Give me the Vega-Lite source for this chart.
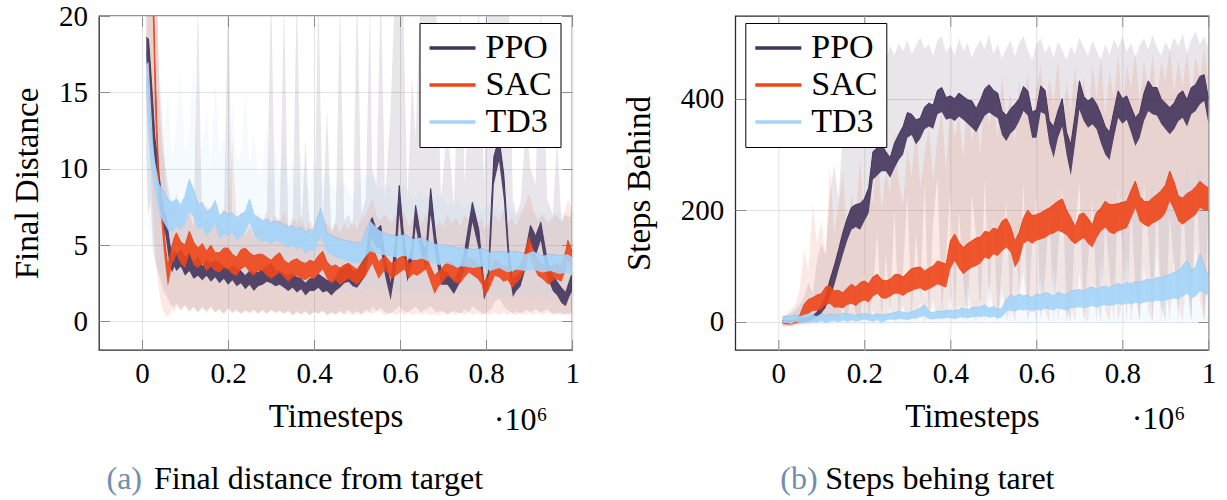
{
"$schema": "https://vega.github.io/schema/vega-lite/v6.json",
"background": "white",
"padding": {"left": 10, "top": 1, "right": 5, "bottom": 5},
"bounds": "flush",
"spacing": 162.3,
"config": {
  "font": "Liberation Serif, Times New Roman, serif",
  "view": {"stroke": "#2b2b2b", "strokeWidth": 1.3},
  "axis": {"labelFont": "Liberation Serif, Times New Roman, serif", "labelFontSize": 29, "labelColor": "#000", "titleFont": "Liberation Serif, Times New Roman, serif", "titleFontSize": 33, "titleFontWeight": "normal", "titleColor": "#000", "gridColor": "#e3e3e3", "gridWidth": 1, "tickColor": "#8c8c8c", "tickWidth": 1, "tickSize": -10.5, "domain": false, "labelFlush": false, "labelOverlap": false},
  "legend": {"title": null, "symbolType": "stroke", "symbolSize": 2116, "symbolStrokeWidth": 3.5, "labelFont": "Liberation Serif, Times New Roman, serif", "labelFontSize": 34, "labelColor": "#000", "labelOffset": 8, "padding": 8, "rowPadding": 3, "clipHeight": 34, "strokeColor": "#000", "fillColor": "#fff", "symbolOpacity": 1}
},
"resolve": {"scale": {"x": "independent", "y": "independent", "color": "independent"}, "legend": {"color": "independent"}, "axis": {"x": "independent", "y": "independent"}},
"datasets": {
"A": [
{"s":"PPO","t":0.01,"lo":16.8,"hi":18.6,"mn":11,"mx":22},
{"s":"PPO","t":0.015,"lo":17.0,"hi":18.5,"mn":7,"mx":24},
{"s":"PPO","t":0.02,"lo":14.5,"hi":16.6,"mn":8,"mx":21},
{"s":"PPO","t":0.025,"lo":12.0,"hi":14.4,"mn":5,"mx":23},
{"s":"PPO","t":0.03,"lo":10.4,"hi":12.0,"mn":4,"mx":17},
{"s":"PPO","t":0.035,"lo":9.4,"hi":11.0,"mn":3.5,"mx":22},
{"s":"PPO","t":0.04,"lo":8.0,"hi":9.5,"mn":3,"mx":15},
{"s":"PPO","t":0.045,"lo":7.0,"hi":8.4,"mn":2.5,"mx":12},
{"s":"PPO","t":0.05,"lo":6.2,"hi":7.3,"mn":2,"mx":11},
{"s":"PPO","t":0.055,"lo":5.6,"hi":7.0,"mn":1.8,"mx":10},
{"s":"PPO","t":0.06,"lo":4.5,"hi":6.0,"mn":1.5,"mx":9},
{"s":"PPO","t":0.065,"lo":3.6,"hi":5.0,"mn":1.2,"mx":8},
{"s":"PPO","t":0.07,"lo":3.2,"hi":4.3,"mn":1,"mx":7.5},
{"s":"PPO","t":0.075,"lo":3.6,"hi":4.6,"mn":0.9,"mx":8},
{"s":"PPO","t":0.08,"lo":3.3,"hi":4.4,"mn":1.2,"mx":7},
{"s":"PPO","t":0.09,"lo":3.6,"hi":4.7,"mn":0.8,"mx":7.5},
{"s":"PPO","t":0.1,"lo":3.0,"hi":4.2,"mn":1.1,"mx":6.5},
{"s":"PPO","t":0.11,"lo":3.3,"hi":4.5,"mn":0.7,"mx":7.2},
{"s":"PPO","t":0.12,"lo":2.8,"hi":3.8,"mn":1.0,"mx":6.2},
{"s":"PPO","t":0.13,"lo":3.0,"hi":4.2,"mn":0.6,"mx":21},
{"s":"PPO","t":0.14,"lo":2.7,"hi":3.6,"mn":0.9,"mx":6},
{"s":"PPO","t":0.15,"lo":3.0,"hi":4.0,"mn":0.7,"mx":6.8},
{"s":"PPO","t":0.16,"lo":2.6,"hi":3.8,"mn":1.0,"mx":6.1},
{"s":"PPO","t":0.17,"lo":2.9,"hi":4.0,"mn":0.6,"mx":6.6},
{"s":"PPO","t":0.18,"lo":2.5,"hi":3.8,"mn":0.8,"mx":7},
{"s":"PPO","t":0.19,"lo":2.8,"hi":3.6,"mn":0.5,"mx":6},
{"s":"PPO","t":0.2,"lo":2.4,"hi":3.4,"mn":0.9,"mx":22},
{"s":"PPO","t":0.21,"lo":2.7,"hi":3.6,"mn":0.6,"mx":6.3},
{"s":"PPO","t":0.22,"lo":2.3,"hi":3.5,"mn":0.8,"mx":5.8},
{"s":"PPO","t":0.23,"lo":2.5,"hi":3.3,"mn":0.5,"mx":6.5},
{"s":"PPO","t":0.24,"lo":2.1,"hi":3.0,"mn":0.7,"mx":5.6},
{"s":"PPO","t":0.25,"lo":2.4,"hi":3.3,"mn":0.6,"mx":6.2},
{"s":"PPO","t":0.26,"lo":2.0,"hi":3.2,"mn":0.8,"mx":5.5},
{"s":"PPO","t":0.27,"lo":2.3,"hi":3.2,"mn":0.5,"mx":6.4},
{"s":"PPO","t":0.28,"lo":2.4,"hi":3.4,"mn":0.7,"mx":5.9},
{"s":"PPO","t":0.29,"lo":2.6,"hi":3.6,"mn":0.5,"mx":6.6},
{"s":"PPO","t":0.3,"lo":2.5,"hi":3.8,"mn":0.8,"mx":22},
{"s":"PPO","t":0.31,"lo":2.3,"hi":3.3,"mn":0.6,"mx":6},
{"s":"PPO","t":0.32,"lo":2.4,"hi":3.3,"mn":0.7,"mx":6.8},
{"s":"PPO","t":0.33,"lo":2.2,"hi":3.1,"mn":0.5,"mx":21},
{"s":"PPO","t":0.34,"lo":2.0,"hi":3.0,"mn":0.7,"mx":5.8},
{"s":"PPO","t":0.35,"lo":2.2,"hi":3.1,"mn":0.4,"mx":6.2},
{"s":"PPO","t":0.36,"lo":1.9,"hi":2.9,"mn":0.6,"mx":22},
{"s":"PPO","t":0.37,"lo":2.1,"hi":2.8,"mn":0.5,"mx":5.6},
{"s":"PPO","t":0.38,"lo":1.7,"hi":2.5,"mn":0.7,"mx":12},
{"s":"PPO","t":0.39,"lo":2.0,"hi":2.8,"mn":0.4,"mx":6},
{"s":"PPO","t":0.4,"lo":2.0,"hi":2.8,"mn":0.6,"mx":5.5},
{"s":"PPO","t":0.41,"lo":2.2,"hi":3.1,"mn":0.5,"mx":22},
{"s":"PPO","t":0.42,"lo":1.9,"hi":2.9,"mn":0.7,"mx":6.2},
{"s":"PPO","t":0.43,"lo":2.0,"hi":2.7,"mn":0.4,"mx":14},
{"s":"PPO","t":0.44,"lo":1.7,"hi":2.6,"mn":0.6,"mx":5.8},
{"s":"PPO","t":0.45,"lo":2.0,"hi":2.9,"mn":0.5,"mx":6.4},
{"s":"PPO","t":0.46,"lo":2.2,"hi":3.4,"mn":0.7,"mx":21},
{"s":"PPO","t":0.47,"lo":2.5,"hi":3.5,"mn":0.5,"mx":6.6},
{"s":"PPO","t":0.48,"lo":2.6,"hi":3.8,"mn":0.8,"mx":7},
{"s":"PPO","t":0.49,"lo":2.3,"hi":3.3,"mn":0.5,"mx":6.2},
{"s":"PPO","t":0.5,"lo":2.2,"hi":3.3,"mn":0.7,"mx":22},
{"s":"PPO","t":0.51,"lo":2.6,"hi":3.8,"mn":0.5,"mx":7},
{"s":"PPO","t":0.52,"lo":3.0,"hi":4.3,"mn":0.8,"mx":8},
{"s":"PPO","t":0.53,"lo":5.0,"hi":6.5,"mn":0.6,"mx":21},
{"s":"PPO","t":0.535,"lo":5.5,"hi":6.8,"mn":1.0,"mx":10},
{"s":"PPO","t":0.545,"lo":4.8,"hi":6.0,"mn":0.7,"mx":9},
{"s":"PPO","t":0.555,"lo":4.8,"hi":6.3,"mn":0.9,"mx":22},
{"s":"PPO","t":0.565,"lo":3.0,"hi":4.2,"mn":0.6,"mx":8},
{"s":"PPO","t":0.578,"lo":1.4,"hi":2.4,"mn":0.5,"mx":14},
{"s":"PPO","t":0.59,"lo":3.5,"hi":5.5,"mn":0.8,"mx":23},
{"s":"PPO","t":0.598,"lo":7.0,"hi":8.9,"mn":1.0,"mx":24},
{"s":"PPO","t":0.607,"lo":4.5,"hi":6.0,"mn":0.7,"mx":21},
{"s":"PPO","t":0.617,"lo":2.6,"hi":3.6,"mn":0.6,"mx":8},
{"s":"PPO","t":0.628,"lo":3.8,"hi":5.0,"mn":0.8,"mx":16},
{"s":"PPO","t":0.636,"lo":6.2,"hi":7.6,"mn":1.0,"mx":12},
{"s":"PPO","t":0.648,"lo":4.5,"hi":5.5,"mn":0.6,"mx":22},
{"s":"PPO","t":0.66,"lo":3.4,"hi":4.6,"mn":0.8,"mx":23},
{"s":"PPO","t":0.671,"lo":7.0,"hi":8.7,"mn":1.0,"mx":24},
{"s":"PPO","t":0.683,"lo":4.2,"hi":5.5,"mn":0.6,"mx":22},
{"s":"PPO","t":0.695,"lo":2.4,"hi":3.4,"mn":0.7,"mx":8},
{"s":"PPO","t":0.71,"lo":2.4,"hi":3.2,"mn":0.5,"mx":13},
{"s":"PPO","t":0.725,"lo":1.8,"hi":2.6,"mn":0.7,"mx":7.5},
{"s":"PPO","t":0.74,"lo":2.6,"hi":3.6,"mn":0.5,"mx":21},
{"s":"PPO","t":0.75,"lo":3.5,"hi":4.6,"mn":0.8,"mx":9},
{"s":"PPO","t":0.76,"lo":5.0,"hi":6.4,"mn":0.6,"mx":15},
{"s":"PPO","t":0.768,"lo":6.5,"hi":7.8,"mn":1.0,"mx":12},
{"s":"PPO","t":0.783,"lo":4.7,"hi":6.0,"mn":0.7,"mx":21},
{"s":"PPO","t":0.795,"lo":1.4,"hi":2.4,"mn":0.5,"mx":9},
{"s":"PPO","t":0.805,"lo":2.2,"hi":3.2,"mn":0.7,"mx":22},
{"s":"PPO","t":0.812,"lo":5.5,"hi":7.5,"mn":0.8,"mx":23},
{"s":"PPO","t":0.818,"lo":9.0,"hi":10.8,"mn":1.2,"mx":24},
{"s":"PPO","t":0.83,"lo":10.5,"hi":12.0,"mn":1.5,"mx":24},
{"s":"PPO","t":0.841,"lo":8.0,"hi":9.6,"mn":1.0,"mx":23},
{"s":"PPO","t":0.852,"lo":3.5,"hi":4.8,"mn":0.7,"mx":22},
{"s":"PPO","t":0.862,"lo":1.6,"hi":2.6,"mn":0.5,"mx":8},
{"s":"PPO","t":0.87,"lo":2.0,"hi":3.0,"mn":0.7,"mx":7},
{"s":"PPO","t":0.88,"lo":2.3,"hi":3.2,"mn":0.5,"mx":7.8},
{"s":"PPO","t":0.893,"lo":3.6,"hi":4.8,"mn":0.8,"mx":13},
{"s":"PPO","t":0.903,"lo":5.2,"hi":6.3,"mn":0.6,"mx":10},
{"s":"PPO","t":0.915,"lo":4.3,"hi":5.6,"mn":0.8,"mx":9},
{"s":"PPO","t":0.927,"lo":5.3,"hi":6.5,"mn":0.6,"mx":21},
{"s":"PPO","t":0.942,"lo":2.9,"hi":4.0,"mn":0.8,"mx":8},
{"s":"PPO","t":0.955,"lo":2.0,"hi":3.0,"mn":0.5,"mx":7},
{"s":"PPO","t":0.965,"lo":1.7,"hi":2.6,"mn":0.6,"mx":12},
{"s":"PPO","t":0.975,"lo":1.2,"hi":2.2,"mn":0.4,"mx":6.5},
{"s":"PPO","t":0.985,"lo":1.0,"hi":1.9,"mn":0.5,"mx":7},
{"s":"PPO","t":0.993,"lo":1.6,"hi":2.6,"mn":0.4,"mx":6.8},
{"s":"PPO","t":1.0,"lo":2.0,"hi":3.2,"mn":0.6,"mx":7.2},
{"s":"SAC","t":0.01,"lo":26,"hi":30,"mn":14,"mx":32},
{"s":"SAC","t":0.02,"lo":24,"hi":28,"mn":10,"mx":32},
{"s":"SAC","t":0.025,"lo":20,"hi":24,"mn":7,"mx":30},
{"s":"SAC","t":0.03,"lo":14,"hi":17,"mn":5,"mx":25},
{"s":"SAC","t":0.035,"lo":10.5,"hi":12.5,"mn":3,"mx":20},
{"s":"SAC","t":0.04,"lo":7.8,"hi":9.2,"mn":2,"mx":16},
{"s":"SAC","t":0.045,"lo":6.5,"hi":8.0,"mn":1,"mx":14},
{"s":"SAC","t":0.05,"lo":4.8,"hi":6.3,"mn":0.6,"mx":12},
{"s":"SAC","t":0.055,"lo":3.5,"hi":4.8,"mn":0.4,"mx":9},
{"s":"SAC","t":0.06,"lo":2.3,"hi":3.6,"mn":0.3,"mx":8},
{"s":"SAC","t":0.065,"lo":3.0,"hi":4.4,"mn":0.5,"mx":7.5},
{"s":"SAC","t":0.07,"lo":3.8,"hi":5.0,"mn":0.8,"mx":8},
{"s":"SAC","t":0.075,"lo":4.0,"hi":5.5,"mn":0.6,"mx":7.2},
{"s":"SAC","t":0.08,"lo":4.4,"hi":5.8,"mn":1.0,"mx":8.5},
{"s":"SAC","t":0.09,"lo":3.8,"hi":5.2,"mn":0.7,"mx":7},
{"s":"SAC","t":0.1,"lo":3.5,"hi":5.0,"mn":1.0,"mx":8},
{"s":"SAC","t":0.11,"lo":4.4,"hi":5.9,"mn":0.6,"mx":9},
{"s":"SAC","t":0.12,"lo":3.7,"hi":5.2,"mn":0.9,"mx":7.4},
{"s":"SAC","t":0.13,"lo":3.5,"hi":4.8,"mn":0.6,"mx":8},
{"s":"SAC","t":0.14,"lo":3.8,"hi":5.1,"mn":1.0,"mx":7},
{"s":"SAC","t":0.15,"lo":3.3,"hi":4.6,"mn":0.5,"mx":7.6},
{"s":"SAC","t":0.16,"lo":3.6,"hi":5.0,"mn":0.9,"mx":7},
{"s":"SAC","t":0.17,"lo":3.3,"hi":4.5,"mn":0.6,"mx":8},
{"s":"SAC","t":0.18,"lo":3.2,"hi":4.5,"mn":0.8,"mx":6.8},
{"s":"SAC","t":0.19,"lo":3.5,"hi":4.8,"mn":0.5,"mx":7.4},
{"s":"SAC","t":0.2,"lo":3.4,"hi":4.8,"mn":0.8,"mx":7},
{"s":"SAC","t":0.21,"lo":3.1,"hi":4.4,"mn":0.5,"mx":12},
{"s":"SAC","t":0.22,"lo":3.0,"hi":4.2,"mn":0.7,"mx":6.6},
{"s":"SAC","t":0.23,"lo":3.4,"hi":4.7,"mn":0.5,"mx":7.2},
{"s":"SAC","t":0.24,"lo":3.6,"hi":4.8,"mn":0.8,"mx":6.8},
{"s":"SAC","t":0.25,"lo":3.2,"hi":4.5,"mn":0.5,"mx":7.4},
{"s":"SAC","t":0.26,"lo":3.0,"hi":4.3,"mn":0.7,"mx":6.5},
{"s":"SAC","t":0.27,"lo":3.3,"hi":4.4,"mn":0.5,"mx":7},
{"s":"SAC","t":0.28,"lo":3.3,"hi":4.4,"mn":0.8,"mx":6.6},
{"s":"SAC","t":0.29,"lo":3.0,"hi":4.2,"mn":0.5,"mx":7.2},
{"s":"SAC","t":0.3,"lo":2.8,"hi":4.0,"mn":0.7,"mx":6.4},
{"s":"SAC","t":0.31,"lo":3.0,"hi":4.3,"mn":0.5,"mx":7},
{"s":"SAC","t":0.32,"lo":3.2,"hi":4.5,"mn":0.7,"mx":6.5},
{"s":"SAC","t":0.33,"lo":2.9,"hi":4.0,"mn":0.5,"mx":7.2},
{"s":"SAC","t":0.34,"lo":2.6,"hi":3.8,"mn":0.7,"mx":6.2},
{"s":"SAC","t":0.35,"lo":2.9,"hi":4.0,"mn":0.4,"mx":6.8},
{"s":"SAC","t":0.36,"lo":3.0,"hi":4.1,"mn":0.7,"mx":6.4},
{"s":"SAC","t":0.37,"lo":2.8,"hi":3.9,"mn":0.4,"mx":7},
{"s":"SAC","t":0.38,"lo":2.7,"hi":3.8,"mn":0.6,"mx":6},
{"s":"SAC","t":0.39,"lo":2.9,"hi":4.0,"mn":0.4,"mx":6.6},
{"s":"SAC","t":0.4,"lo":2.8,"hi":3.9,"mn":0.7,"mx":6.2},
{"s":"SAC","t":0.41,"lo":3.1,"hi":4.3,"mn":0.5,"mx":7},
{"s":"SAC","t":0.42,"lo":3.4,"hi":4.6,"mn":0.7,"mx":6.8},
{"s":"SAC","t":0.43,"lo":2.8,"hi":3.9,"mn":0.4,"mx":6.4},
{"s":"SAC","t":0.44,"lo":2.5,"hi":3.6,"mn":0.6,"mx":6},
{"s":"SAC","t":0.45,"lo":2.7,"hi":3.7,"mn":0.4,"mx":6.6},
{"s":"SAC","t":0.46,"lo":2.4,"hi":3.5,"mn":0.6,"mx":5.8},
{"s":"SAC","t":0.47,"lo":2.6,"hi":3.7,"mn":0.4,"mx":6.4},
{"s":"SAC","t":0.48,"lo":2.8,"hi":3.8,"mn":0.6,"mx":6},
{"s":"SAC","t":0.49,"lo":2.6,"hi":3.6,"mn":0.4,"mx":6.6},
{"s":"SAC","t":0.5,"lo":2.4,"hi":3.4,"mn":0.6,"mx":6},
{"s":"SAC","t":0.51,"lo":2.7,"hi":3.8,"mn":0.4,"mx":6.8},
{"s":"SAC","t":0.52,"lo":3.0,"hi":4.2,"mn":0.6,"mx":7},
{"s":"SAC","t":0.535,"lo":3.8,"hi":4.9,"mn":0.5,"mx":8},
{"s":"SAC","t":0.55,"lo":2.8,"hi":3.9,"mn":0.7,"mx":6.6},
{"s":"SAC","t":0.565,"lo":3.4,"hi":4.3,"mn":0.4,"mx":7},
{"s":"SAC","t":0.58,"lo":2.8,"hi":3.8,"mn":0.6,"mx":6.4},
{"s":"SAC","t":0.59,"lo":3.0,"hi":4.0,"mn":0.4,"mx":7},
{"s":"SAC","t":0.6,"lo":3.2,"hi":4.2,"mn":0.6,"mx":6.6},
{"s":"SAC","t":0.61,"lo":3.4,"hi":4.3,"mn":0.4,"mx":7.2},
{"s":"SAC","t":0.62,"lo":2.8,"hi":3.8,"mn":0.6,"mx":6.2},
{"s":"SAC","t":0.63,"lo":3.1,"hi":4.0,"mn":0.4,"mx":6.8},
{"s":"SAC","t":0.64,"lo":3.0,"hi":4.0,"mn":0.6,"mx":7.4},
{"s":"SAC","t":0.65,"lo":3.2,"hi":4.2,"mn":0.4,"mx":6.4},
{"s":"SAC","t":0.66,"lo":3.4,"hi":4.4,"mn":0.6,"mx":7},
{"s":"SAC","t":0.67,"lo":2.6,"hi":3.6,"mn":0.4,"mx":6.2},
{"s":"SAC","t":0.68,"lo":1.8,"hi":3.0,"mn":0.5,"mx":6},
{"s":"SAC","t":0.69,"lo":2.3,"hi":3.3,"mn":0.4,"mx":6.6},
{"s":"SAC","t":0.7,"lo":2.6,"hi":3.6,"mn":0.6,"mx":6.2},
{"s":"SAC","t":0.71,"lo":3.0,"hi":3.9,"mn":0.4,"mx":7},
{"s":"SAC","t":0.72,"lo":2.8,"hi":3.8,"mn":0.6,"mx":6.4},
{"s":"SAC","t":0.73,"lo":2.5,"hi":3.5,"mn":0.4,"mx":6.8},
{"s":"SAC","t":0.74,"lo":2.5,"hi":3.5,"mn":0.6,"mx":6.2},
{"s":"SAC","t":0.75,"lo":2.9,"hi":3.9,"mn":0.4,"mx":7},
{"s":"SAC","t":0.76,"lo":3.2,"hi":4.2,"mn":0.6,"mx":6.6},
{"s":"SAC","t":0.77,"lo":3.0,"hi":4.0,"mn":0.4,"mx":7.2},
{"s":"SAC","t":0.78,"lo":2.8,"hi":3.8,"mn":0.6,"mx":6.4},
{"s":"SAC","t":0.79,"lo":2.4,"hi":3.4,"mn":0.4,"mx":6.8},
{"s":"SAC","t":0.795,"lo":1.7,"hi":2.6,"mn":0.5,"mx":6},
{"s":"SAC","t":0.805,"lo":2.0,"hi":3.0,"mn":0.4,"mx":6.4},
{"s":"SAC","t":0.82,"lo":3.0,"hi":4.0,"mn":0.6,"mx":7},
{"s":"SAC","t":0.83,"lo":2.9,"hi":3.9,"mn":0.4,"mx":6.6},
{"s":"SAC","t":0.84,"lo":2.6,"hi":3.6,"mn":0.6,"mx":7.2},
{"s":"SAC","t":0.85,"lo":2.7,"hi":3.6,"mn":0.4,"mx":6.4},
{"s":"SAC","t":0.86,"lo":2.2,"hi":3.2,"mn":0.6,"mx":6.8},
{"s":"SAC","t":0.87,"lo":2.5,"hi":3.4,"mn":0.4,"mx":6.2},
{"s":"SAC","t":0.88,"lo":2.8,"hi":3.7,"mn":0.6,"mx":7},
{"s":"SAC","t":0.89,"lo":3.4,"hi":4.5,"mn":0.4,"mx":7.6},
{"s":"SAC","t":0.9,"lo":4.4,"hi":5.6,"mn":0.6,"mx":8.4},
{"s":"SAC","t":0.91,"lo":3.6,"hi":4.6,"mn":0.4,"mx":7.2},
{"s":"SAC","t":0.92,"lo":3.0,"hi":4.0,"mn":0.6,"mx":6.6},
{"s":"SAC","t":0.93,"lo":2.8,"hi":3.8,"mn":0.4,"mx":7},
{"s":"SAC","t":0.945,"lo":2.4,"hi":3.4,"mn":0.6,"mx":6.4},
{"s":"SAC","t":0.96,"lo":2.8,"hi":3.8,"mn":0.4,"mx":7},
{"s":"SAC","t":0.975,"lo":2.6,"hi":3.6,"mn":0.6,"mx":6.6},
{"s":"SAC","t":0.985,"lo":3.4,"hi":4.6,"mn":0.4,"mx":7.4},
{"s":"SAC","t":0.99,"lo":4.0,"hi":5.3,"mn":0.6,"mx":8},
{"s":"SAC","t":1.0,"lo":3.4,"hi":4.6,"mn":0.5,"mx":7.4},
{"s":"TD3","t":0.01,"lo":15.0,"hi":17.5,"mn":8,"mx":19},
{"s":"TD3","t":0.015,"lo":12.5,"hi":15.5,"mn":6.5,"mx":18},
{"s":"TD3","t":0.02,"lo":10.5,"hi":13.0,"mn":5,"mx":17},
{"s":"TD3","t":0.025,"lo":9.5,"hi":11.5,"mn":4.5,"mx":16},
{"s":"TD3","t":0.03,"lo":8.5,"hi":10.5,"mn":4,"mx":15},
{"s":"TD3","t":0.035,"lo":7.8,"hi":9.8,"mn":3.5,"mx":14},
{"s":"TD3","t":0.04,"lo":7.0,"hi":9.0,"mn":3.2,"mx":18},
{"s":"TD3","t":0.05,"lo":6.5,"hi":8.5,"mn":3,"mx":12},
{"s":"TD3","t":0.06,"lo":6.0,"hi":8.0,"mn":2.8,"mx":15},
{"s":"TD3","t":0.07,"lo":5.8,"hi":7.8,"mn":3,"mx":10.5},
{"s":"TD3","t":0.08,"lo":6.2,"hi":8.0,"mn":2.6,"mx":13},
{"s":"TD3","t":0.09,"lo":6.0,"hi":7.6,"mn":2.9,"mx":16.5},
{"s":"TD3","t":0.1,"lo":6.4,"hi":8.2,"mn":3.1,"mx":11},
{"s":"TD3","t":0.11,"lo":7.2,"hi":9.3,"mn":3.2,"mx":12.5},
{"s":"TD3","t":0.12,"lo":6.8,"hi":8.6,"mn":2.8,"mx":17},
{"s":"TD3","t":0.13,"lo":6.0,"hi":7.6,"mn":3.1,"mx":10},
{"s":"TD3","t":0.14,"lo":6.2,"hi":7.8,"mn":2.9,"mx":11.5},
{"s":"TD3","t":0.15,"lo":5.6,"hi":7.2,"mn":2.6,"mx":14},
{"s":"TD3","t":0.16,"lo":5.9,"hi":7.4,"mn":3.0,"mx":10},
{"s":"TD3","t":0.17,"lo":6.4,"hi":7.9,"mn":2.8,"mx":16},
{"s":"TD3","t":0.18,"lo":5.4,"hi":6.9,"mn":2.6,"mx":11},
{"s":"TD3","t":0.19,"lo":5.7,"hi":7.2,"mn":2.9,"mx":12},
{"s":"TD3","t":0.2,"lo":5.6,"hi":7.0,"mn":2.5,"mx":9.5},
{"s":"TD3","t":0.21,"lo":5.8,"hi":7.1,"mn":2.7,"mx":14.5},
{"s":"TD3","t":0.22,"lo":5.3,"hi":6.8,"mn":2.4,"mx":10.5},
{"s":"TD3","t":0.23,"lo":5.6,"hi":7.0,"mn":2.8,"mx":11},
{"s":"TD3","t":0.24,"lo":5.8,"hi":7.2,"mn":2.6,"mx":15},
{"s":"TD3","t":0.25,"lo":6.5,"hi":8.0,"mn":2.9,"mx":10},
{"s":"TD3","t":0.26,"lo":5.6,"hi":7.0,"mn":2.4,"mx":12.5},
{"s":"TD3","t":0.27,"lo":5.4,"hi":6.8,"mn":2.5,"mx":9.5},
{"s":"TD3","t":0.28,"lo":5.2,"hi":6.6,"mn":2.3,"mx":10},
{"s":"TD3","t":0.29,"lo":5.3,"hi":6.7,"mn":2.6,"mx":13},
{"s":"TD3","t":0.3,"lo":5.0,"hi":6.4,"mn":2.2,"mx":9},
{"s":"TD3","t":0.31,"lo":5.3,"hi":6.6,"mn":2.4,"mx":11.5},
{"s":"TD3","t":0.32,"lo":5.2,"hi":6.5,"mn":2.2,"mx":9.5},
{"s":"TD3","t":0.33,"lo":5.0,"hi":6.3,"mn":2.5,"mx":12},
{"s":"TD3","t":0.34,"lo":4.8,"hi":6.2,"mn":2.1,"mx":9},
{"s":"TD3","t":0.35,"lo":5.0,"hi":6.3,"mn":2.3,"mx":10.5},
{"s":"TD3","t":0.36,"lo":4.7,"hi":6.0,"mn":2.0,"mx":8.8},
{"s":"TD3","t":0.37,"lo":4.9,"hi":6.2,"mn":2.3,"mx":11},
{"s":"TD3","t":0.38,"lo":4.4,"hi":5.8,"mn":2.0,"mx":9},
{"s":"TD3","t":0.39,"lo":4.7,"hi":6.0,"mn":2.2,"mx":8.6},
{"s":"TD3","t":0.4,"lo":4.6,"hi":6.0,"mn":2.0,"mx":10.5},
{"s":"TD3","t":0.415,"lo":5.6,"hi":7.4,"mn":2.4,"mx":9},
{"s":"TD3","t":0.43,"lo":4.5,"hi":5.8,"mn":1.9,"mx":9.8},
{"s":"TD3","t":0.45,"lo":4.2,"hi":5.5,"mn":2.2,"mx":8.4},
{"s":"TD3","t":0.47,"lo":4.0,"hi":5.3,"mn":1.8,"mx":9.2},
{"s":"TD3","t":0.49,"lo":3.8,"hi":5.2,"mn":2.1,"mx":8},
{"s":"TD3","t":0.51,"lo":3.9,"hi":5.1,"mn":1.8,"mx":9.6},
{"s":"TD3","t":0.53,"lo":4.6,"hi":6.6,"mn":2.2,"mx":9.5},
{"s":"TD3","t":0.55,"lo":4.4,"hi":6.0,"mn":1.8,"mx":8.6},
{"s":"TD3","t":0.57,"lo":4.3,"hi":5.7,"mn":2.1,"mx":9},
{"s":"TD3","t":0.59,"lo":4.2,"hi":5.6,"mn":1.8,"mx":8.2},
{"s":"TD3","t":0.61,"lo":4.3,"hi":5.7,"mn":2.0,"mx":9},
{"s":"TD3","t":0.63,"lo":4.0,"hi":5.4,"mn":1.7,"mx":8},
{"s":"TD3","t":0.65,"lo":4.1,"hi":5.5,"mn":2.0,"mx":8.6},
{"s":"TD3","t":0.67,"lo":3.9,"hi":5.2,"mn":1.7,"mx":7.8},
{"s":"TD3","t":0.69,"lo":3.7,"hi":5.0,"mn":1.9,"mx":8.4},
{"s":"TD3","t":0.71,"lo":3.8,"hi":5.0,"mn":1.6,"mx":7.6},
{"s":"TD3","t":0.73,"lo":3.6,"hi":4.8,"mn":1.9,"mx":8},
{"s":"TD3","t":0.75,"lo":3.6,"hi":4.8,"mn":1.6,"mx":7.4},
{"s":"TD3","t":0.77,"lo":3.5,"hi":4.7,"mn":1.8,"mx":8},
{"s":"TD3","t":0.79,"lo":3.6,"hi":4.8,"mn":1.6,"mx":7.2},
{"s":"TD3","t":0.81,"lo":3.3,"hi":4.5,"mn":1.8,"mx":7.8},
{"s":"TD3","t":0.83,"lo":3.5,"hi":4.6,"mn":1.5,"mx":7.2},
{"s":"TD3","t":0.85,"lo":3.2,"hi":4.5,"mn":1.7,"mx":7.6},
{"s":"TD3","t":0.87,"lo":3.4,"hi":4.6,"mn":1.5,"mx":7},
{"s":"TD3","t":0.89,"lo":3.3,"hi":4.4,"mn":1.7,"mx":7.4},
{"s":"TD3","t":0.91,"lo":3.4,"hi":4.6,"mn":1.5,"mx":7},
{"s":"TD3","t":0.93,"lo":3.2,"hi":4.3,"mn":1.7,"mx":7.2},
{"s":"TD3","t":0.95,"lo":3.3,"hi":4.4,"mn":1.5,"mx":6.8},
{"s":"TD3","t":0.97,"lo":3.1,"hi":4.3,"mn":1.6,"mx":7.2},
{"s":"TD3","t":0.99,"lo":3.2,"hi":4.4,"mn":1.5,"mx":6.8},
{"s":"TD3","t":1.0,"lo":3.0,"hi":4.2,"mn":1.6,"mx":7}
],
"B": [
{"s":"PPO","t":0.01,"lo":-3,"hi":3,"mn":-8,"mx":10},
{"s":"PPO","t":0.02,"lo":-2,"hi":3,"mn":-7,"mx":12},
{"s":"PPO","t":0.03,"lo":-3,"hi":2,"mn":-8,"mx":15},
{"s":"PPO","t":0.04,"lo":-2,"hi":3,"mn":-6,"mx":20},
{"s":"PPO","t":0.05,"lo":-1,"hi":4,"mn":-5,"mx":30},
{"s":"PPO","t":0.06,"lo":0,"hi":6,"mn":-4,"mx":45},
{"s":"PPO","t":0.07,"lo":1,"hi":8,"mn":-3,"mx":70},
{"s":"PPO","t":0.08,"lo":3,"hi":10,"mn":-2,"mx":50},
{"s":"PPO","t":0.09,"lo":8,"hi":18,"mn":0,"mx":110},
{"s":"PPO","t":0.1,"lo":15,"hi":30,"mn":0,"mx":140},
{"s":"PPO","t":0.11,"lo":25,"hi":45,"mn":0,"mx":120},
{"s":"PPO","t":0.12,"lo":45,"hi":75,"mn":0,"mx":230},
{"s":"PPO","t":0.13,"lo":65,"hi":100,"mn":10,"mx":280},
{"s":"PPO","t":0.14,"lo":93,"hi":129,"mn":0,"mx":220},
{"s":"PPO","t":0.15,"lo":120,"hi":160,"mn":30,"mx":340},
{"s":"PPO","t":0.16,"lo":145,"hi":185,"mn":0,"mx":390},
{"s":"PPO","t":0.17,"lo":165,"hi":205,"mn":60,"mx":360},
{"s":"PPO","t":0.18,"lo":170,"hi":210,"mn":10,"mx":430},
{"s":"PPO","t":0.19,"lo":165,"hi":212,"mn":0,"mx":400},
{"s":"PPO","t":0.2,"lo":180,"hi":220,"mn":90,"mx":450},
{"s":"PPO","t":0.21,"lo":195,"hi":240,"mn":0,"mx":430},
{"s":"PPO","t":0.22,"lo":255,"hi":305,"mn":60,"mx":475},
{"s":"PPO","t":0.23,"lo":262,"hi":312,"mn":160,"mx":460},
{"s":"PPO","t":0.24,"lo":270,"hi":318,"mn":0,"mx":490},
{"s":"PPO","t":0.25,"lo":270,"hi":305,"mn":120,"mx":470},
{"s":"PPO","t":0.26,"lo":258,"hi":294,"mn":20,"mx":495},
{"s":"PPO","t":0.27,"lo":275,"hi":320,"mn":200,"mx":478},
{"s":"PPO","t":0.28,"lo":290,"hi":336,"mn":0,"mx":500},
{"s":"PPO","t":0.29,"lo":300,"hi":350,"mn":90,"mx":485},
{"s":"PPO","t":0.3,"lo":330,"hi":375,"mn":230,"mx":505},
{"s":"PPO","t":0.31,"lo":335,"hi":372,"mn":0,"mx":480},
{"s":"PPO","t":0.32,"lo":318,"hi":362,"mn":160,"mx":495},
{"s":"PPO","t":0.33,"lo":328,"hi":365,"mn":40,"mx":510},
{"s":"PPO","t":0.34,"lo":345,"hi":385,"mn":250,"mx":488},
{"s":"PPO","t":0.35,"lo":350,"hi":392,"mn":0,"mx":498},
{"s":"PPO","t":0.36,"lo":346,"hi":388,"mn":180,"mx":476},
{"s":"PPO","t":0.37,"lo":372,"hi":415,"mn":260,"mx":505},
{"s":"PPO","t":0.38,"lo":376,"hi":420,"mn":10,"mx":512},
{"s":"PPO","t":0.39,"lo":362,"hi":402,"mn":120,"mx":482},
{"s":"PPO","t":0.4,"lo":365,"hi":405,"mn":240,"mx":496},
{"s":"PPO","t":0.41,"lo":360,"hi":400,"mn":0,"mx":478},
{"s":"PPO","t":0.42,"lo":368,"hi":410,"mn":200,"mx":508},
{"s":"PPO","t":0.43,"lo":362,"hi":404,"mn":70,"mx":486},
{"s":"PPO","t":0.44,"lo":355,"hi":398,"mn":0,"mx":500},
{"s":"PPO","t":0.45,"lo":348,"hi":396,"mn":230,"mx":474},
{"s":"PPO","t":0.46,"lo":340,"hi":382,"mn":150,"mx":492},
{"s":"PPO","t":0.47,"lo":355,"hi":398,"mn":0,"mx":506},
{"s":"PPO","t":0.48,"lo":370,"hi":418,"mn":260,"mx":488},
{"s":"PPO","t":0.49,"lo":375,"hi":425,"mn":30,"mx":515},
{"s":"PPO","t":0.5,"lo":370,"hi":415,"mn":190,"mx":480},
{"s":"PPO","t":0.51,"lo":365,"hi":410,"mn":0,"mx":498},
{"s":"PPO","t":0.52,"lo":335,"hi":378,"mn":100,"mx":472},
{"s":"PPO","t":0.53,"lo":324,"hi":370,"mn":220,"mx":490},
{"s":"PPO","t":0.54,"lo":338,"hi":382,"mn":0,"mx":505},
{"s":"PPO","t":0.55,"lo":345,"hi":390,"mn":160,"mx":476},
{"s":"PPO","t":0.56,"lo":360,"hi":400,"mn":50,"mx":500},
{"s":"PPO","t":0.57,"lo":378,"hi":422,"mn":250,"mx":512},
{"s":"PPO","t":0.58,"lo":370,"hi":414,"mn":0,"mx":486},
{"s":"PPO","t":0.59,"lo":330,"hi":376,"mn":140,"mx":470},
{"s":"PPO","t":0.6,"lo":330,"hi":380,"mn":230,"mx":498},
{"s":"PPO","t":0.61,"lo":376,"hi":423,"mn":0,"mx":508},
{"s":"PPO","t":0.62,"lo":372,"hi":415,"mn":80,"mx":482},
{"s":"PPO","t":0.63,"lo":320,"hi":360,"mn":200,"mx":496},
{"s":"PPO","t":0.64,"lo":294,"hi":350,"mn":0,"mx":474},
{"s":"PPO","t":0.65,"lo":330,"hi":378,"mn":120,"mx":502},
{"s":"PPO","t":0.66,"lo":350,"hi":400,"mn":240,"mx":488},
{"s":"PPO","t":0.67,"lo":300,"hi":340,"mn":20,"mx":470},
{"s":"PPO","t":0.68,"lo":262,"hi":318,"mn":0,"mx":494},
{"s":"PPO","t":0.69,"lo":320,"hi":372,"mn":170,"mx":480},
{"s":"PPO","t":0.7,"lo":380,"hi":432,"mn":250,"mx":510},
{"s":"PPO","t":0.71,"lo":360,"hi":404,"mn":0,"mx":492},
{"s":"PPO","t":0.72,"lo":348,"hi":396,"mn":110,"mx":476},
{"s":"PPO","t":0.73,"lo":354,"hi":402,"mn":220,"mx":504},
{"s":"PPO","t":0.74,"lo":345,"hi":390,"mn":40,"mx":486},
{"s":"PPO","t":0.75,"lo":320,"hi":372,"mn":0,"mx":470},
{"s":"PPO","t":0.76,"lo":300,"hi":350,"mn":180,"mx":498},
{"s":"PPO","t":0.77,"lo":290,"hi":340,"mn":90,"mx":478},
{"s":"PPO","t":0.78,"lo":330,"hi":378,"mn":0,"mx":506},
{"s":"PPO","t":0.79,"lo":366,"hi":414,"mn":240,"mx":490},
{"s":"PPO","t":0.8,"lo":355,"hi":400,"mn":130,"mx":512},
{"s":"PPO","t":0.81,"lo":362,"hi":405,"mn":0,"mx":484},
{"s":"PPO","t":0.82,"lo":340,"hi":385,"mn":210,"mx":500},
{"s":"PPO","t":0.83,"lo":315,"hi":366,"mn":60,"mx":474},
{"s":"PPO","t":0.84,"lo":330,"hi":375,"mn":0,"mx":496},
{"s":"PPO","t":0.85,"lo":360,"hi":410,"mn":250,"mx":508},
{"s":"PPO","t":0.86,"lo":378,"hi":432,"mn":150,"mx":488},
{"s":"PPO","t":0.87,"lo":372,"hi":420,"mn":0,"mx":514},
{"s":"PPO","t":0.88,"lo":370,"hi":420,"mn":230,"mx":492},
{"s":"PPO","t":0.89,"lo":355,"hi":400,"mn":30,"mx":478},
{"s":"PPO","t":0.9,"lo":345,"hi":392,"mn":0,"mx":502},
{"s":"PPO","t":0.91,"lo":336,"hi":384,"mn":190,"mx":486},
{"s":"PPO","t":0.92,"lo":345,"hi":392,"mn":100,"mx":510},
{"s":"PPO","t":0.93,"lo":360,"hi":408,"mn":0,"mx":494},
{"s":"PPO","t":0.94,"lo":366,"hi":414,"mn":240,"mx":516},
{"s":"PPO","t":0.95,"lo":350,"hi":398,"mn":70,"mx":482},
{"s":"PPO","t":0.96,"lo":372,"hi":420,"mn":0,"mx":506},
{"s":"PPO","t":0.97,"lo":378,"hi":425,"mn":260,"mx":520},
{"s":"PPO","t":0.98,"lo":390,"hi":440,"mn":120,"mx":498},
{"s":"PPO","t":0.99,"lo":396,"hi":443,"mn":0,"mx":512},
{"s":"PPO","t":1.0,"lo":355,"hi":400,"mn":200,"mx":490},
{"s":"SAC","t":0.01,"lo":-4,"hi":2,"mn":-8,"mx":10},
{"s":"SAC","t":0.02,"lo":-5,"hi":1,"mn":-9,"mx":12},
{"s":"SAC","t":0.03,"lo":-5,"hi":1,"mn":-8,"mx":20},
{"s":"SAC","t":0.04,"lo":-3,"hi":3,"mn":-6,"mx":30},
{"s":"SAC","t":0.05,"lo":0,"hi":12,"mn":-4,"mx":60},
{"s":"SAC","t":0.06,"lo":13,"hi":31,"mn":-2,"mx":130},
{"s":"SAC","t":0.07,"lo":14,"hi":40,"mn":0,"mx":90},
{"s":"SAC","t":0.08,"lo":19,"hi":43,"mn":2,"mx":210},
{"s":"SAC","t":0.09,"lo":20,"hi":48,"mn":0,"mx":140},
{"s":"SAC","t":0.1,"lo":22,"hi":50,"mn":6,"mx":180},
{"s":"SAC","t":0.11,"lo":30,"hi":62,"mn":0,"mx":120},
{"s":"SAC","t":0.12,"lo":32,"hi":66,"mn":10,"mx":280},
{"s":"SAC","t":0.13,"lo":25,"hi":55,"mn":0,"mx":160},
{"s":"SAC","t":0.14,"lo":26,"hi":56,"mn":4,"mx":210},
{"s":"SAC","t":0.15,"lo":24,"hi":52,"mn":12,"mx":270},
{"s":"SAC","t":0.16,"lo":30,"hi":60,"mn":0,"mx":150},
{"s":"SAC","t":0.17,"lo":32,"hi":67,"mn":0,"mx":230},
{"s":"SAC","t":0.18,"lo":28,"hi":62,"mn":15,"mx":190},
{"s":"SAC","t":0.19,"lo":35,"hi":70,"mn":0,"mx":290},
{"s":"SAC","t":0.2,"lo":38,"hi":73,"mn":8,"mx":170},
{"s":"SAC","t":0.21,"lo":35,"hi":68,"mn":0,"mx":250},
{"s":"SAC","t":0.22,"lo":45,"hi":80,"mn":20,"mx":210},
{"s":"SAC","t":0.23,"lo":50,"hi":85,"mn":0,"mx":320},
{"s":"SAC","t":0.24,"lo":42,"hi":75,"mn":10,"mx":200},
{"s":"SAC","t":0.25,"lo":41,"hi":73,"mn":0,"mx":270},
{"s":"SAC","t":0.26,"lo":45,"hi":76,"mn":25,"mx":230},
{"s":"SAC","t":0.27,"lo":50,"hi":84,"mn":0,"mx":340},
{"s":"SAC","t":0.28,"lo":50,"hi":85,"mn":5,"mx":250},
{"s":"SAC","t":0.29,"lo":46,"hi":80,"mn":30,"mx":210},
{"s":"SAC","t":0.3,"lo":52,"hi":88,"mn":0,"mx":310},
{"s":"SAC","t":0.31,"lo":55,"hi":95,"mn":15,"mx":260},
{"s":"SAC","t":0.32,"lo":58,"hi":97,"mn":0,"mx":360},
{"s":"SAC","t":0.33,"lo":60,"hi":98,"mn":35,"mx":240},
{"s":"SAC","t":0.34,"lo":55,"hi":91,"mn":0,"mx":300},
{"s":"SAC","t":0.35,"lo":58,"hi":96,"mn":10,"mx":350},
{"s":"SAC","t":0.36,"lo":62,"hi":100,"mn":40,"mx":250},
{"s":"SAC","t":0.37,"lo":67,"hi":109,"mn":0,"mx":330},
{"s":"SAC","t":0.38,"lo":64,"hi":106,"mn":20,"mx":380},
{"s":"SAC","t":0.39,"lo":61,"hi":103,"mn":0,"mx":270},
{"s":"SAC","t":0.4,"lo":95,"hi":145,"mn":50,"mx":400},
{"s":"SAC","t":0.41,"lo":109,"hi":157,"mn":0,"mx":330},
{"s":"SAC","t":0.42,"lo":95,"hi":142,"mn":30,"mx":370},
{"s":"SAC","t":0.43,"lo":85,"hi":133,"mn":0,"mx":290},
{"s":"SAC","t":0.44,"lo":92,"hi":140,"mn":60,"mx":410},
{"s":"SAC","t":0.45,"lo":97,"hi":145,"mn":10,"mx":320},
{"s":"SAC","t":0.46,"lo":100,"hi":150,"mn":0,"mx":380},
{"s":"SAC","t":0.47,"lo":105,"hi":152,"mn":45,"mx":300},
{"s":"SAC","t":0.48,"lo":115,"hi":162,"mn":0,"mx":420},
{"s":"SAC","t":0.49,"lo":112,"hi":160,"mn":70,"mx":350},
{"s":"SAC","t":0.5,"lo":121,"hi":168,"mn":20,"mx":400},
{"s":"SAC","t":0.51,"lo":118,"hi":165,"mn":0,"mx":330},
{"s":"SAC","t":0.52,"lo":127,"hi":180,"mn":60,"mx":440},
{"s":"SAC","t":0.53,"lo":133,"hi":185,"mn":0,"mx":360},
{"s":"SAC","t":0.54,"lo":125,"hi":170,"mn":30,"mx":410},
{"s":"SAC","t":0.55,"lo":97,"hi":145,"mn":0,"mx":320},
{"s":"SAC","t":0.56,"lo":110,"hi":160,"mn":50,"mx":430},
{"s":"SAC","t":0.57,"lo":140,"hi":186,"mn":90,"mx":370},
{"s":"SAC","t":0.58,"lo":145,"hi":200,"mn":0,"mx":450},
{"s":"SAC","t":0.59,"lo":140,"hi":190,"mn":40,"mx":340},
{"s":"SAC","t":0.6,"lo":145,"hi":192,"mn":0,"mx":420},
{"s":"SAC","t":0.61,"lo":148,"hi":195,"mn":80,"mx":460},
{"s":"SAC","t":0.62,"lo":150,"hi":200,"mn":20,"mx":360},
{"s":"SAC","t":0.63,"lo":156,"hi":204,"mn":0,"mx":440},
{"s":"SAC","t":0.64,"lo":158,"hi":210,"mn":100,"mx":390},
{"s":"SAC","t":0.65,"lo":163,"hi":216,"mn":0,"mx":470},
{"s":"SAC","t":0.66,"lo":160,"hi":220,"mn":60,"mx":350},
{"s":"SAC","t":0.67,"lo":155,"hi":200,"mn":0,"mx":430},
{"s":"SAC","t":0.68,"lo":145,"hi":186,"mn":30,"mx":380},
{"s":"SAC","t":0.69,"lo":139,"hi":170,"mn":0,"mx":460},
{"s":"SAC","t":0.7,"lo":145,"hi":192,"mn":90,"mx":370},
{"s":"SAC","t":0.71,"lo":150,"hi":195,"mn":10,"mx":440},
{"s":"SAC","t":0.72,"lo":140,"hi":185,"mn":0,"mx":350},
{"s":"SAC","t":0.73,"lo":133,"hi":174,"mn":70,"mx":460},
{"s":"SAC","t":0.74,"lo":150,"hi":196,"mn":0,"mx":400},
{"s":"SAC","t":0.75,"lo":162,"hi":204,"mn":110,"mx":475},
{"s":"SAC","t":0.76,"lo":169,"hi":216,"mn":20,"mx":370},
{"s":"SAC","t":0.77,"lo":160,"hi":210,"mn":0,"mx":450},
{"s":"SAC","t":0.78,"lo":157,"hi":210,"mn":80,"mx":400},
{"s":"SAC","t":0.79,"lo":162,"hi":212,"mn":0,"mx":480},
{"s":"SAC","t":0.8,"lo":165,"hi":214,"mn":40,"mx":380},
{"s":"SAC","t":0.81,"lo":168,"hi":216,"mn":120,"mx":460},
{"s":"SAC","t":0.82,"lo":185,"hi":235,"mn":0,"mx":420},
{"s":"SAC","t":0.83,"lo":204,"hi":252,"mn":60,"mx":485},
{"s":"SAC","t":0.84,"lo":180,"hi":225,"mn":0,"mx":390},
{"s":"SAC","t":0.85,"lo":174,"hi":216,"mn":100,"mx":470},
{"s":"SAC","t":0.86,"lo":170,"hi":215,"mn":20,"mx":410},
{"s":"SAC","t":0.87,"lo":176,"hi":222,"mn":0,"mx":480},
{"s":"SAC","t":0.88,"lo":180,"hi":228,"mn":130,"mx":400},
{"s":"SAC","t":0.89,"lo":185,"hi":235,"mn":0,"mx":465},
{"s":"SAC","t":0.9,"lo":195,"hi":245,"mn":70,"mx":430},
{"s":"SAC","t":0.91,"lo":216,"hi":270,"mn":0,"mx":490},
{"s":"SAC","t":0.92,"lo":200,"hi":250,"mn":110,"mx":410},
{"s":"SAC","t":0.93,"lo":180,"hi":225,"mn":30,"mx":470},
{"s":"SAC","t":0.94,"lo":174,"hi":222,"mn":0,"mx":420},
{"s":"SAC","t":0.95,"lo":180,"hi":230,"mn":90,"mx":485},
{"s":"SAC","t":0.96,"lo":186,"hi":234,"mn":0,"mx":400},
{"s":"SAC","t":0.97,"lo":192,"hi":242,"mn":140,"mx":475},
{"s":"SAC","t":0.98,"lo":204,"hi":252,"mn":40,"mx":440},
{"s":"SAC","t":0.99,"lo":200,"hi":245,"mn":0,"mx":490},
{"s":"SAC","t":1.0,"lo":199,"hi":240,"mn":80,"mx":430},
{"s":"TD3","t":0.01,"lo":-3,"hi":8,"mn":-8,"mx":15},
{"s":"TD3","t":0.02,"lo":-2,"hi":10,"mn":-8,"mx":20},
{"s":"TD3","t":0.03,"lo":-4,"hi":9,"mn":-9,"mx":25},
{"s":"TD3","t":0.04,"lo":0,"hi":12,"mn":-7,"mx":30},
{"s":"TD3","t":0.05,"lo":-2,"hi":10,"mn":-5,"mx":35},
{"s":"TD3","t":0.06,"lo":0,"hi":12,"mn":-8,"mx":28},
{"s":"TD3","t":0.07,"lo":-3,"hi":14,"mn":-6,"mx":45},
{"s":"TD3","t":0.08,"lo":0,"hi":12,"mn":-7,"mx":32},
{"s":"TD3","t":0.09,"lo":-2,"hi":10,"mn":-8,"mx":55},
{"s":"TD3","t":0.1,"lo":2,"hi":14,"mn":-4,"mx":38},
{"s":"TD3","t":0.11,"lo":-3,"hi":10,"mn":-8,"mx":44},
{"s":"TD3","t":0.12,"lo":0,"hi":13,"mn":-5,"mx":62},
{"s":"TD3","t":0.13,"lo":1,"hi":12,"mn":-7,"mx":40},
{"s":"TD3","t":0.14,"lo":-1,"hi":12,"mn":-4,"mx":48},
{"s":"TD3","t":0.15,"lo":2,"hi":15,"mn":-6,"mx":70},
{"s":"TD3","t":0.16,"lo":0,"hi":13,"mn":-5,"mx":42},
{"s":"TD3","t":0.17,"lo":3,"hi":14,"mn":-3,"mx":55},
{"s":"TD3","t":0.18,"lo":0,"hi":11,"mn":-7,"mx":46},
{"s":"TD3","t":0.19,"lo":2,"hi":13,"mn":-4,"mx":75},
{"s":"TD3","t":0.2,"lo":4,"hi":15,"mn":-5,"mx":50},
{"s":"TD3","t":0.21,"lo":2,"hi":13,"mn":-6,"mx":58},
{"s":"TD3","t":0.22,"lo":0,"hi":12,"mn":-3,"mx":44},
{"s":"TD3","t":0.23,"lo":3,"hi":14,"mn":-5,"mx":80},
{"s":"TD3","t":0.24,"lo":-2,"hi":12,"mn":-7,"mx":52},
{"s":"TD3","t":0.25,"lo":2,"hi":13,"mn":-4,"mx":60},
{"s":"TD3","t":0.26,"lo":4,"hi":15,"mn":-5,"mx":48},
{"s":"TD3","t":0.27,"lo":3,"hi":16,"mn":-3,"mx":85},
{"s":"TD3","t":0.28,"lo":5,"hi":18,"mn":-4,"mx":56},
{"s":"TD3","t":0.29,"lo":4,"hi":17,"mn":-2,"mx":70},
{"s":"TD3","t":0.3,"lo":3,"hi":15,"mn":-4,"mx":54},
{"s":"TD3","t":0.31,"lo":5,"hi":18,"mn":-3,"mx":95},
{"s":"TD3","t":0.32,"lo":6,"hi":20,"mn":-2,"mx":62},
{"s":"TD3","t":0.33,"lo":8,"hi":25,"mn":-3,"mx":80},
{"s":"TD3","t":0.34,"lo":10,"hi":30,"mn":-1,"mx":105},
{"s":"TD3","t":0.35,"lo":5,"hi":18,"mn":-3,"mx":66},
{"s":"TD3","t":0.36,"lo":4,"hi":16,"mn":-2,"mx":78},
{"s":"TD3","t":0.37,"lo":6,"hi":19,"mn":-3,"mx":110},
{"s":"TD3","t":0.38,"lo":5,"hi":18,"mn":-1,"mx":70},
{"s":"TD3","t":0.39,"lo":7,"hi":20,"mn":-2,"mx":92},
{"s":"TD3","t":0.4,"lo":6,"hi":21,"mn":-3,"mx":74},
{"s":"TD3","t":0.41,"lo":5,"hi":19,"mn":-1,"mx":120},
{"s":"TD3","t":0.42,"lo":7,"hi":22,"mn":-2,"mx":80},
{"s":"TD3","t":0.43,"lo":8,"hi":24,"mn":0,"mx":98},
{"s":"TD3","t":0.44,"lo":6,"hi":21,"mn":-2,"mx":84},
{"s":"TD3","t":0.45,"lo":8,"hi":25,"mn":-1,"mx":130},
{"s":"TD3","t":0.46,"lo":9,"hi":26,"mn":0,"mx":90},
{"s":"TD3","t":0.47,"lo":8,"hi":27,"mn":-2,"mx":105},
{"s":"TD3","t":0.48,"lo":10,"hi":30,"mn":0,"mx":140},
{"s":"TD3","t":0.49,"lo":7,"hi":24,"mn":-1,"mx":96},
{"s":"TD3","t":0.5,"lo":9,"hi":27,"mn":0,"mx":118},
{"s":"TD3","t":0.51,"lo":6,"hi":22,"mn":-2,"mx":100},
{"s":"TD3","t":0.52,"lo":8,"hi":24,"mn":0,"mx":150},
{"s":"TD3","t":0.53,"lo":18,"hi":40,"mn":-1,"mx":115},
{"s":"TD3","t":0.54,"lo":20,"hi":48,"mn":0,"mx":135},
{"s":"TD3","t":0.55,"lo":18,"hi":44,"mn":-1,"mx":170},
{"s":"TD3","t":0.56,"lo":22,"hi":50,"mn":0,"mx":120},
{"s":"TD3","t":0.57,"lo":20,"hi":46,"mn":-1,"mx":145},
{"s":"TD3","t":0.58,"lo":22,"hi":48,"mn":0,"mx":128},
{"s":"TD3","t":0.59,"lo":18,"hi":42,"mn":-1,"mx":180},
{"s":"TD3","t":0.6,"lo":22,"hi":50,"mn":0,"mx":130},
{"s":"TD3","t":0.61,"lo":20,"hi":48,"mn":-1,"mx":160},
{"s":"TD3","t":0.62,"lo":23,"hi":52,"mn":0,"mx":140},
{"s":"TD3","t":0.63,"lo":22,"hi":50,"mn":-1,"mx":190},
{"s":"TD3","t":0.64,"lo":20,"hi":46,"mn":0,"mx":150},
{"s":"TD3","t":0.65,"lo":24,"hi":53,"mn":-1,"mx":172},
{"s":"TD3","t":0.66,"lo":22,"hi":50,"mn":0,"mx":145},
{"s":"TD3","t":0.67,"lo":20,"hi":48,"mn":-1,"mx":200},
{"s":"TD3","t":0.68,"lo":24,"hi":55,"mn":0,"mx":158},
{"s":"TD3","t":0.69,"lo":25,"hi":56,"mn":-1,"mx":182},
{"s":"TD3","t":0.7,"lo":26,"hi":58,"mn":0,"mx":165},
{"s":"TD3","t":0.71,"lo":24,"hi":55,"mn":-1,"mx":210},
{"s":"TD3","t":0.72,"lo":26,"hi":60,"mn":0,"mx":170},
{"s":"TD3","t":0.73,"lo":28,"hi":62,"mn":-1,"mx":192},
{"s":"TD3","t":0.74,"lo":25,"hi":58,"mn":0,"mx":176},
{"s":"TD3","t":0.75,"lo":28,"hi":62,"mn":-1,"mx":220},
{"s":"TD3","t":0.76,"lo":30,"hi":64,"mn":0,"mx":180},
{"s":"TD3","t":0.77,"lo":28,"hi":60,"mn":-1,"mx":205},
{"s":"TD3","t":0.78,"lo":30,"hi":66,"mn":0,"mx":186},
{"s":"TD3","t":0.79,"lo":32,"hi":68,"mn":-1,"mx":232},
{"s":"TD3","t":0.8,"lo":30,"hi":66,"mn":0,"mx":190},
{"s":"TD3","t":0.81,"lo":33,"hi":70,"mn":-1,"mx":214},
{"s":"TD3","t":0.82,"lo":31,"hi":68,"mn":0,"mx":198},
{"s":"TD3","t":0.83,"lo":34,"hi":72,"mn":-1,"mx":244},
{"s":"TD3","t":0.84,"lo":32,"hi":70,"mn":0,"mx":205},
{"s":"TD3","t":0.85,"lo":34,"hi":74,"mn":-1,"mx":228},
{"s":"TD3","t":0.86,"lo":36,"hi":76,"mn":0,"mx":210},
{"s":"TD3","t":0.87,"lo":35,"hi":74,"mn":-1,"mx":255},
{"s":"TD3","t":0.88,"lo":38,"hi":80,"mn":0,"mx":218},
{"s":"TD3","t":0.89,"lo":36,"hi":78,"mn":-1,"mx":240},
{"s":"TD3","t":0.9,"lo":38,"hi":82,"mn":0,"mx":222},
{"s":"TD3","t":0.91,"lo":40,"hi":85,"mn":-1,"mx":265},
{"s":"TD3","t":0.92,"lo":42,"hi":88,"mn":0,"mx":230},
{"s":"TD3","t":0.93,"lo":40,"hi":90,"mn":-1,"mx":250},
{"s":"TD3","t":0.94,"lo":45,"hi":100,"mn":0,"mx":236},
{"s":"TD3","t":0.95,"lo":50,"hi":110,"mn":-1,"mx":275},
{"s":"TD3","t":0.96,"lo":42,"hi":92,"mn":0,"mx":240},
{"s":"TD3","t":0.97,"lo":45,"hi":98,"mn":-1,"mx":262},
{"s":"TD3","t":0.98,"lo":55,"hi":121,"mn":0,"mx":280},
{"s":"TD3","t":0.99,"lo":50,"hi":100,"mn":-1,"mx":248},
{"s":"TD3","t":1.0,"lo":48,"hi":80,"mn":0,"mx":260}
]
},
"hconcat": [
{
"width": 473.2, "height": 334,
"data": {"name": "A"},
"resolve": {"axis": {"x": "independent", "y": "independent"}},
"layer": [
 {"mark": {"type": "line", "strokeWidth": 1, "clip": true},
  "encoding": {
   "x": {"field": "t", "type": "quantitative", "scale": {"domain": [-0.1, 1], "nice": false, "zero": false}, "axis": {"orient": "bottom", "values": [0, 0.2, 0.4, 0.6, 0.8, 1], "format": "~g", "title": "Timesteps", "grid": true, "labelPadding": 20, "titleY": 76, "titleBaseline": "alphabetic"}},
   "y": {"field": "hi", "type": "quantitative", "stack": null, "scale": {"domain": [-1.87, 20], "nice": false, "zero": false}, "axis": {"orient": "left", "values": [0, 5, 10, 15, 20], "title": "Final Distance", "grid": true, "labelPadding": 22, "titleX": -62, "titleBaseline": "alphabetic"}},
   "color": {"field": "s", "type": "nominal", "scale": {"domain": ["PPO", "SAC", "TD3"], "range": ["#42345c", "#ee4619", "#a4d4f9"]}, "legend": {"orient": "none", "legendX": 320.5, "legendY": 7}}
  }},
 {"mark": {"type": "area", "fillOpacity": 0.12, "clip": true},
  "encoding": {
   "x": {"field": "t", "type": "quantitative", "scale": {"domain": [-0.1, 1], "nice": false, "zero": false}, "axis": {"orient": "top", "values": [0, 0.2, 0.4, 0.6, 0.8, 1], "labels": false, "grid": false, "title": null}},
   "y": {"field": "mn", "type": "quantitative", "stack": null, "scale": {"domain": [-1.87, 20], "nice": false, "zero": false}, "axis": {"orient": "right", "values": [0, 5, 10, 15, 20], "labels": false, "grid": false, "title": null}},
   "y2": {"field": "mx"},
   "color": {"field": "s", "type": "nominal", "scale": {"domain": ["PPO", "SAC", "TD3"], "range": ["#42345c", "#ee4619", "#a4d4f9"]}}
  }},
 {"mark": {"type": "area", "fillOpacity": 0.9, "clip": true},
  "encoding": {
   "x": {"field": "t", "type": "quantitative", "scale": {"domain": [-0.1, 1], "nice": false, "zero": false}, "axis": null},
   "y": {"field": "lo", "type": "quantitative", "stack": null, "scale": {"domain": [-1.87, 20], "nice": false, "zero": false}, "axis": null},
   "y2": {"field": "hi"},
   "color": {"field": "s", "type": "nominal", "scale": {"domain": ["PPO", "SAC", "TD3"], "range": ["#42345c", "#ee4619", "#a4d4f9"]}}
  }},
 {"data": {"values": [{"label": "·10⁶"}]},
  "mark": {"type": "text", "align": "right", "baseline": "alphabetic", "fontSize": 32, "font": "Liberation Serif, Times New Roman, serif", "color": "#000"},
  "encoding": {
   "x": {"datum": 0.943, "type": "quantitative", "scale": {"domain": [-0.1, 1], "nice": false, "zero": false}, "axis": null},
   "y": {"datum": -7.1, "type": "quantitative", "scale": {"domain": [-1.87, 20], "nice": false, "zero": false}, "axis": null},
   "text": {"field": "label"}
  }},
 {"data": {"values": [{"label": "(a)"}]},
  "mark": {"type": "text", "align": "left", "baseline": "alphabetic", "fontSize": 32, "font": "Liberation Serif, Times New Roman, serif", "color": "#6f8fae"},
  "encoding": {
   "x": {"datum": -0.0826, "type": "quantitative", "scale": {"domain": [-0.1, 1], "nice": false, "zero": false}, "axis": null},
   "y": {"datum": -10.97, "type": "quantitative", "scale": {"domain": [-1.87, 20], "nice": false, "zero": false}, "axis": null},
   "text": {"field": "label"}
  }},
 {"data": {"values": [{"label": "Final distance from target"}]},
  "mark": {"type": "text", "align": "left", "baseline": "alphabetic", "fontSize": 32, "font": "Liberation Serif, Times New Roman, serif", "color": "#000"},
  "encoding": {
   "x": {"datum": 0.0277, "type": "quantitative", "scale": {"domain": [-0.1, 1], "nice": false, "zero": false}, "axis": null},
   "y": {"datum": -10.97, "type": "quantitative", "scale": {"domain": [-1.87, 20], "nice": false, "zero": false}, "axis": null},
   "text": {"field": "label"}
  }}
]
},
{
"width": 473.2, "height": 334,
"data": {"name": "B"},
"resolve": {"axis": {"x": "independent", "y": "independent"}},
"layer": [
 {"mark": {"type": "line", "strokeWidth": 1, "clip": true},
  "encoding": {
   "x": {"field": "t", "type": "quantitative", "scale": {"domain": [-0.1, 1], "nice": false, "zero": false}, "axis": {"orient": "bottom", "values": [0, 0.2, 0.4, 0.6, 0.8, 1], "format": "~g", "title": "Timesteps", "grid": true, "labelPadding": 20, "titleY": 76, "titleBaseline": "alphabetic"}},
   "y": {"field": "hi", "type": "quantitative", "stack": null, "scale": {"domain": [-50.8, 548.3], "nice": false, "zero": false}, "axis": {"orient": "left", "values": [0, 200, 400], "format": "d", "title": "Steps Behind", "grid": true, "labelPadding": 22, "titleX": -86, "titleBaseline": "alphabetic"}},
   "color": {"field": "s", "type": "nominal", "scale": {"domain": ["PPO", "SAC", "TD3"], "range": ["#42345c", "#ee4619", "#a4d4f9"]}, "legend": {"orient": "none", "legendX": 10, "legendY": 7}}
  }},
 {"mark": {"type": "area", "fillOpacity": 0.12, "clip": true},
  "encoding": {
   "x": {"field": "t", "type": "quantitative", "scale": {"domain": [-0.1, 1], "nice": false, "zero": false}, "axis": {"orient": "top", "values": [0, 0.2, 0.4, 0.6, 0.8, 1], "labels": false, "grid": false, "title": null}},
   "y": {"field": "mn", "type": "quantitative", "stack": null, "scale": {"domain": [-50.8, 548.3], "nice": false, "zero": false}, "axis": {"orient": "right", "values": [0, 200, 400], "labels": false, "grid": false, "title": null}},
   "y2": {"field": "mx"},
   "color": {"field": "s", "type": "nominal", "scale": {"domain": ["PPO", "SAC", "TD3"], "range": ["#42345c", "#ee4619", "#a4d4f9"]}}
  }},
 {"mark": {"type": "area", "fillOpacity": 0.9, "clip": true},
  "encoding": {
   "x": {"field": "t", "type": "quantitative", "scale": {"domain": [-0.1, 1], "nice": false, "zero": false}, "axis": null},
   "y": {"field": "lo", "type": "quantitative", "stack": null, "scale": {"domain": [-50.8, 548.3], "nice": false, "zero": false}, "axis": null},
   "y2": {"field": "hi"},
   "color": {"field": "s", "type": "nominal", "scale": {"domain": ["PPO", "SAC", "TD3"], "range": ["#42345c", "#ee4619", "#a4d4f9"]}}
  }},
 {"data": {"values": [{"label": "·10⁶"}]},
  "mark": {"type": "text", "align": "right", "baseline": "alphabetic", "fontSize": 32, "font": "Liberation Serif, Times New Roman, serif", "color": "#000"},
  "encoding": {
   "x": {"datum": 0.9465, "type": "quantitative", "scale": {"domain": [-0.1, 1], "nice": false, "zero": false}, "axis": null},
   "y": {"datum": -192.5, "type": "quantitative", "scale": {"domain": [-50.8, 548.3], "nice": false, "zero": false}, "axis": null},
   "text": {"field": "label"}
  }},
 {"data": {"values": [{"label": "(b)"}]},
  "mark": {"type": "text", "align": "left", "baseline": "alphabetic", "fontSize": 32, "font": "Liberation Serif, Times New Roman, serif", "color": "#6f8fae"},
  "encoding": {
   "x": {"datum": 0.0047, "type": "quantitative", "scale": {"domain": [-0.1, 1], "nice": false, "zero": false}, "axis": null},
   "y": {"datum": -300.1, "type": "quantitative", "scale": {"domain": [-50.8, 548.3], "nice": false, "zero": false}, "axis": null},
   "text": {"field": "label"}
  }},
 {"data": {"values": [{"label": "Steps behing taret"}]},
  "mark": {"type": "text", "align": "left", "baseline": "alphabetic", "fontSize": 32, "font": "Liberation Serif, Times New Roman, serif", "color": "#000"},
  "encoding": {
   "x": {"datum": 0.109, "type": "quantitative", "scale": {"domain": [-0.1, 1], "nice": false, "zero": false}, "axis": null},
   "y": {"datum": -300.1, "type": "quantitative", "scale": {"domain": [-50.8, 548.3], "nice": false, "zero": false}, "axis": null},
   "text": {"field": "label"}
  }}
]
}
]
}
